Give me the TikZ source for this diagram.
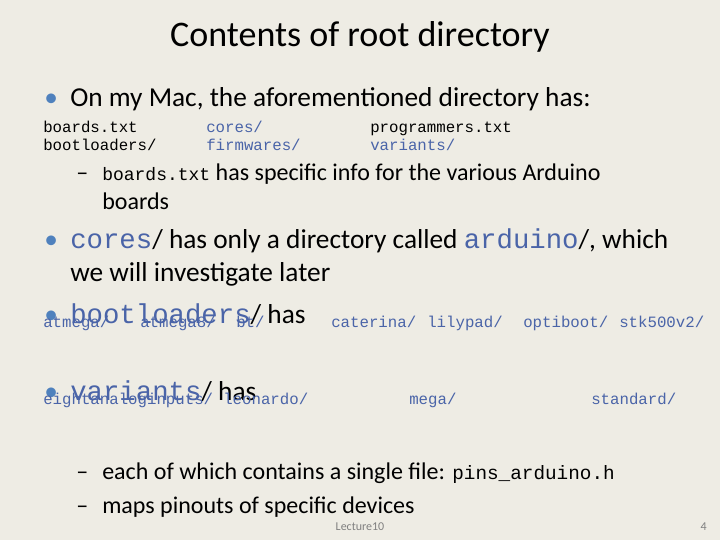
\documentclass[tikz,border=0pt]{standalone}
\usepackage{fontspec}
\setmainfont{Carlito}
\setmonofont{Liberation Mono}
\definecolor{slidebg}{HTML}{EEECE4}
\definecolor{dirblue}{HTML}{4A64A8}
\definecolor{bulletblue}{HTML}{4F81BD}
\begin{document}
\begin{tikzpicture}[x=0.75pt,y=-0.75pt,
  every node/.style={inner sep=0pt,anchor=base west},
  big/.style={font=\fontsize{20.5}{24}\selectfont},
  mid/.style={font=\fontsize{18}{22}\selectfont},
  file/.style={font=\ttfamily\fontsize{11.8}{14}\selectfont},
  dir/.style={font=\ttfamily\fontsize{11.8}{14}\selectfont,text=dirblue}]
\fill[slidebg] (0,0) rectangle (720,540);
\path (360,46) node (title) [anchor=base,font=\fontsize{27}{32}\selectfont] {Contents of root directory};
\path (44,106) node (b1) [big,text=bulletblue] {\textbullet};
\path (70,106) node (t1) [big] {On my Mac, the aforementioned directory has:};
\path (43,132) node (f1) [file] {boards.txt};
\path (43,150) node (f2) [file] {bootloaders/};
\path (206,132) node (f3) [file,text=dirblue] {cores/};
\path (206,150) node (f4) [file,text=dirblue] {firmwares/};
\path (370,132) node (f5) [file] {programmers.txt};
\path (370,150) node (f6) [file,text=dirblue] {variants/};
\path (76,180) node (d1) [mid] {--};
\path (102,180) node (t2) [mid] {{\ttfamily\fontsize{13.5}{16}\selectfont boards.txt} has specific info for the various Arduino};
\path (102,209) node (t3) [mid] {boards};
\path (44,248) node (b2) [big,text=bulletblue] {\textbullet};
\path (70,248) node (t4) [big] {{\ttfamily\color{dirblue}cores}/ has only a directory called {\ttfamily\color{dirblue}arduino}/, which};
\path (70,281) node (t5) [big] {we will investigate later};
\path (44,323) node (b3) [big,text=bulletblue] {\textbullet};
\path (70,323) node (t6) [big] {{\ttfamily\color{dirblue}bootloaders}/ has};
\path (43,327) node (l1) [dir] {atmega/};
\path (140,327) node (l2) [dir] {atmega8/};
\path (236,327) node (l3) [dir] {bt/};
\path (331,327) node (l4) [dir] {caterina/};
\path (427,327) node (l5) [dir] {lilypad/};
\path (523,327) node (l6) [dir] {optiboot/};
\path (619,327) node (l7) [dir] {stk500v2/};
\path (44,400) node (b4) [big,text=bulletblue] {\textbullet};
\path (70,400) node (t7) [big] {{\ttfamily\color{dirblue}variants}/ has};
\path (43,404) node (v1) [dir] {eightanaloginputs/};
\path (223,404) node (v2) [dir] {leonardo/};
\path (409,404) node (v3) [dir] {mega/};
\path (591,404) node (v4) [dir] {standard/};
\path (76,479) node (d2) [mid] {--};
\path (102,479) node (t8) [mid] {each of which contains a single file: {\ttfamily\fontsize{14.5}{17}\selectfont pins\_arduino.h}};
\path (76,513) node (d3) [mid] {--};
\path (102,513) node (t9) [mid] {maps pinouts of specific devices};
\path (360,530) node (foot) [anchor=base,font=\fontsize{9}{10}\selectfont,text=gray] {Lecture10};
\path (707,530) node (page) [anchor=base east,font=\fontsize{9}{10}\selectfont,text=gray] {4};
\end{tikzpicture}
\end{document}
